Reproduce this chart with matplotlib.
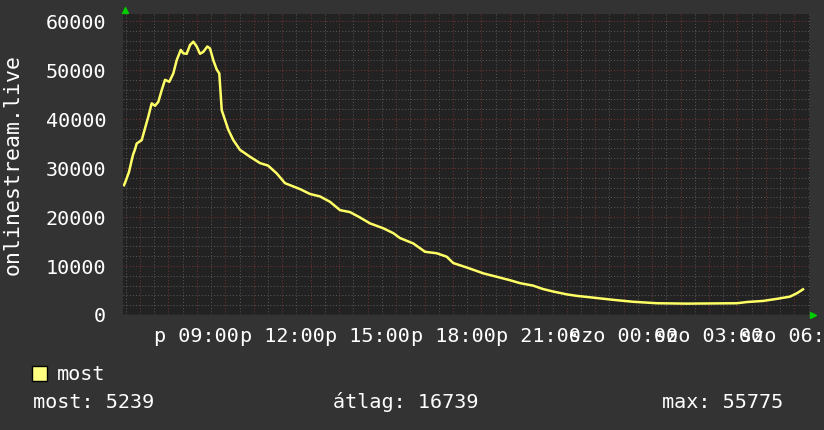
import numpy as np
import matplotlib
matplotlib.use('Agg')
import matplotlib.pyplot as plt
from matplotlib.patches import Rectangle

# hours since midnight (friday)
hours = [6.438, 6.508, 6.613, 6.684, 6.754, 6.824, 6.884, 7.060, 7.176, 7.292,
         7.411, 7.527, 7.643, 7.763, 7.879, 8.030, 8.170, 8.290, 8.431, 8.522,
         8.641, 8.757, 8.873, 8.993, 9.109, 9.225, 9.366, 9.460, 9.576, 9.696,
         9.787, 9.872, 9.988, 10.104, 10.279, 10.515, 10.866, 11.218, 11.499, 11.805,
         12.097, 12.624, 12.975, 13.327, 13.678, 14.030, 14.381, 14.733, 15.084, 15.552,
         15.903, 16.139, 16.606, 17.018, 17.429, 17.780, 18.012, 18.483, 19.067, 19.538,
         20.005, 20.357, 20.814, 21.165, 21.517, 22.009, 22.360, 22.922, 23.626, 24.329,
         25.172, 26.227, 27.984, 28.336, 28.898, 29.390, 29.847, 30.093, 30.304]
viewers = [26500, 27500, 29200, 31000, 32700, 33800, 35000, 35700, 38100, 40500,
           43200, 42700, 43500, 45900, 48000, 47600, 49300, 52000, 54100, 53400,
           53300, 55100, 55775, 54800, 53300, 53700, 54800, 54400, 52000, 50100,
           49300, 41800, 39800, 37800, 35700, 33700, 32300, 31000, 30500, 28900,
           26900, 25700, 24700, 24200, 23100, 21400, 21000, 19900, 18700, 17700,
           16700, 15700, 14600, 12900, 12600, 11900, 10600, 9700, 8500, 7800,
           7100, 6500, 6000, 5300, 4800, 4200, 3900, 3550, 3100, 2700,
           2400, 2320, 2400, 2650, 2870, 3300, 3750, 4450, 5239]

label_hours = [9, 12, 15, 18, 21, 24, 27, 30]
label_text = ['p 09:00', 'p 12:00', 'p 15:00', 'p 18:00', 'p 21:00',
              'szo 00:00', 'szo 03:00', 'szo 06:00']
y_ticks = [0, 10000, 20000, 30000, 40000, 50000, 60000]

legend_name = 'most'
stats = ['most: 5239', 'átlag: 16739', 'max: 55775']

W, H = 824, 430
BG = '#333333'
CANVAS = '#222222'
MINOR = '#555555'
MAJOR = '#743232'
FONT = 'DejaVu Sans Mono'

fig = plt.figure(figsize=(W / 100, H / 100), dpi=100, facecolor=BG)
ax = fig.add_axes([123 / W, (H - 315) / H, 687 / W, 301 / H])
ax.set_facecolor(CANVAS)

ax.set_xlim(6.402, 30.55)
ax.set_ylim(0, 61430)

# grid: minor gray dots, major red dots
dots = (0, (1, 2))
for h in np.arange(6.5, 30.6, 0.5):
    c = MAJOR if h == int(h) else MINOR
    ax.axvline(h, color=c, lw=0.75, ls=dots, zorder=1)
for v in range(2000, 61430, 2000):
    c = MAJOR if v % 10000 == 0 else MINOR
    ax.axhline(v, color=c, lw=0.75, ls=dots, zorder=1)

ax.plot(hours, viewers, color='#ffff66', lw=1.8, zorder=3)

ax.set_xticks(label_hours)
ax.set_xticklabels(label_text)
ax.set_yticks(y_ticks)
ax.set_yticklabels([str(v) for v in y_ticks])
ax.tick_params(axis='x', length=0, pad=9, colors='white', labelsize=14.5)
ax.tick_params(axis='y', length=0, pad=12, colors='white', labelsize=14.5)
for t in ax.get_xticklabels() + ax.get_yticklabels():
    t.set_fontfamily(FONT)

for s in ax.spines.values():
    s.set_visible(False)
ax.axhline(0, color='#4a4a4a', lw=1, zorder=2)

ax.set_ylabel('onlinestream.live', fontfamily=FONT, fontsize=15.5,
              color='white')
ax.yaxis.set_label_coords(-(123 - 3) / 687, 0.5)
ax.yaxis.label.set_va('top')

# green axis arrows
ax.plot([0.003], [1.013], marker='^', color='#00cc00', ms=5,
        transform=ax.transAxes, clip_on=False)
ax.plot([1.0044], [0.0], marker='>', color='#00cc00', ms=5,
        transform=ax.transAxes, clip_on=False)

# legend
fig.patches.append(Rectangle((32 / W, (H - 381) / H), 15 / W, 15 / H,
                             transform=fig.transFigure, facecolor='#ffff80',
                             edgecolor='black', lw=1))
fig.text(57 / W, 1 - 374 / H, legend_name, fontfamily=FONT, fontsize=14.5,
         color='white', va='center')
for x, s in zip([33, 333, 662], stats):
    fig.text(x / W, 1 - 402 / H, s, fontfamily=FONT, fontsize=14.5,
             color='white', va='center')

fig.savefig('out.png', dpi=100, facecolor=BG)
